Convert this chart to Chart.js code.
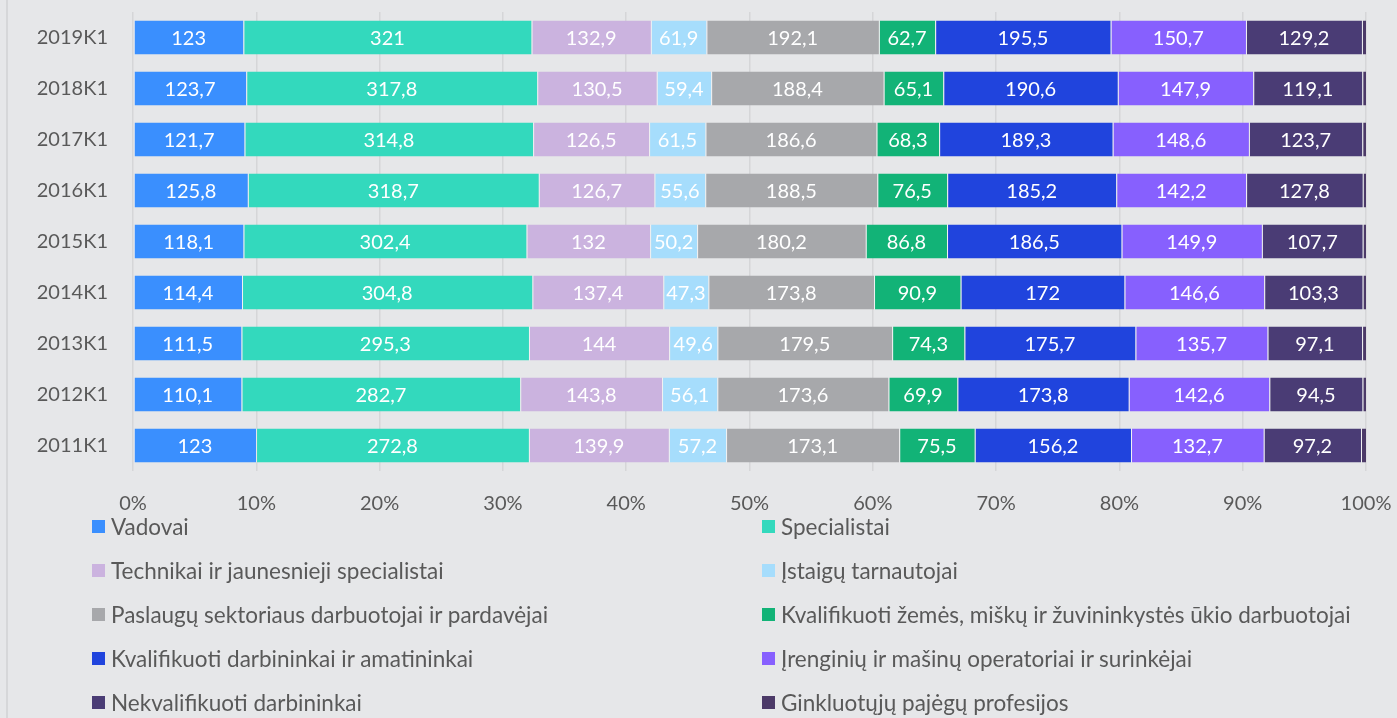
<!DOCTYPE html>
<html>
<head>
<meta charset="utf-8">
<script src="https://cdn.jsdelivr.net/npm/chart.js@4"></script>
<style>
  html, body { margin: 0; padding: 0; background: #e6e7e9; }
  body { width: 1397px; height: 718px; position: relative; overflow: hidden; font-family: Lato, "Noto Sans", sans-serif; }
  #frame { position: absolute; left: 6px; top: 0; width: 2px; height: 718px; background: #d6d7d9; }
  #chartBox { position: absolute; left: 0; top: 0; width: 1397px; height: 518px; }
  #legend { position: absolute; left: 0; top: 0; width: 1397px; height: 718px; pointer-events: none; }
  .item { position: absolute; display: flex; align-items: center; height: 26px; font-size: 22.5px; color: #595959; white-space: nowrap; }
  .box { width: 13px; height: 13px; margin-right: 6px; }
</style>
</head>
<body>
<div id="frame"></div>
<div id="chartBox"><canvas id="chart"></canvas></div>
<div id="legend"></div>
<script>
const categories = ["2019K1", "2018K1", "2017K1", "2016K1", "2015K1", "2014K1", "2013K1", "2012K1", "2011K1"];

const vadovai = [123, 123.7, 121.7, 125.8, 118.1, 114.4, 111.5, 110.1, 123];
const specialistai = [321, 317.8, 314.8, 318.7, 302.4, 304.8, 295.3, 282.7, 272.8];
const technikai = [132.9, 130.5, 126.5, 126.7, 132, 137.4, 144, 143.8, 139.9];
const istaiguTarnautojai = [61.9, 59.4, 61.5, 55.6, 50.2, 47.3, 49.6, 56.1, 57.2];
const paslaugu = [192.1, 188.4, 186.6, 188.5, 180.2, 173.8, 179.5, 173.6, 173.1];
const zemesUkio = [62.7, 65.1, 68.3, 76.5, 86.8, 90.9, 74.3, 69.9, 75.5];
const darbininkai = [195.5, 190.6, 189.3, 185.2, 186.5, 172, 175.7, 173.8, 156.2];
const operatoriai = [150.7, 147.9, 148.6, 142.2, 149.9, 146.6, 135.7, 142.6, 132.7];
const nekvalifikuoti = [129.2, 119.1, 123.7, 127.8, 107.7, 103.3, 97.1, 94.5, 97.2];
// thin sliver at the right end, no label in the picture - estimated
const ginkluotuju = [4.5, 4, 4, 3.5, 3.5, 3.5, 4, 3.5, 5];

const seriesNames = [
  "Vadovai",
  "Specialistai",
  "Technikai ir jaunesnieji specialistai",
  "Įstaigų tarnautojai",
  "Paslaugų sektoriaus darbuotojai ir pardavėjai",
  "Kvalifikuoti žemės, miškų ir žuvininkystės ūkio darbuotojai",
  "Kvalifikuoti darbininkai ir amatininkai",
  "Įrenginių ir mašinų operatoriai ir surinkėjai",
  "Nekvalifikuoti darbininkai",
  "Ginkluotųjų pajėgų profesijos",
];
const seriesValues = [vadovai, specialistai, technikai, istaiguTarnautojai, paslaugu, zemesUkio, darbininkai, operatoriai, nekvalifikuoti, ginkluotuju];
const seriesColors = ["#3a8ffe", "#33d9bd", "#cbb3df", "#a6ddfc", "#a7a8ab", "#12b377", "#2044dd", "#8760fe", "#4a3c75", "#4c3a68"];

// row totals for 100% stacking
const totals = categories.map((c, i) => seriesValues.reduce((s, arr) => s + arr[i], 0));

const datasets = seriesNames.map((name, k) => ({
  label: name,
  data: seriesValues[k].map((v, i) => (v / totals[i]) * 100),
  raw: seriesValues[k],
  backgroundColor: seriesColors[k],
  borderColor: "rgba(255,255,255,0.45)",
  borderWidth: { left: 1, right: 0, top: 0, bottom: 0 },
  borderSkipped: false,
  showLabel: k < 9,
}));

const font = "Lato, 'Noto Sans', sans-serif";

// value labels in the middle of each segment
const segmentLabels = {
  id: "segmentLabels",
  afterDatasetsDraw(chart) {
    const ctx = chart.ctx;
    ctx.save();
    ctx.font = "20px " + font;
    ctx.fillStyle = "#ffffff";
    ctx.textAlign = "center";
    ctx.textBaseline = "middle";
    chart.data.datasets.forEach((ds, k) => {
      if (!ds.showLabel) return;
      const meta = chart.getDatasetMeta(k);
      meta.data.forEach((bar, i) => {
        const cx = (bar.x + bar.base) / 2;
        const txt = String(ds.raw[i]).replace(".", ",");
        ctx.fillText(txt, cx, bar.y + 1);
      });
    });
    ctx.restore();
  },
};

const tickColor = "#595959";

const chart = new Chart(document.getElementById("chart").getContext("2d"), {
  type: "bar",
  data: { labels: categories, datasets: datasets },
  options: {
    indexAxis: "y",
    responsive: true,
    maintainAspectRatio: false,
    animation: false,
    layout: { padding: { top: 11, right: 31, left: 0, bottom: 0 } },
    datasets: { bar: { categoryPercentage: 0.665, barPercentage: 1 } },
    plugins: {
      legend: { display: false },
      tooltip: { enabled: false },
    },
    scales: {
      x: {
        stacked: true,
        min: 0,
        max: 100,
        ticks: {
          stepSize: 10,
          padding: 21,
          color: tickColor,
          font: { size: 20, family: font },
          callback: (v) => v + "%",
        },
        grid: { color: "#d5d6d8", lineWidth: 1.5, drawTicks: false },
        border: { display: false },
        afterFit: (scale) => {
          scale.height = 47;
          // let the "100%" label hang into the right margin
          scale.paddingLeft = 0;
          scale.paddingRight = 0;
        },
      },
      y: {
        stacked: true,
        ticks: {
          padding: 0,
          color: tickColor,
          font: { size: 20, family: font },
        },
        // gap between labels and bars comes from the (hidden) tick length
        grid: { display: false, drawTicks: true, tickLength: 25 },
        border: { display: false },
        afterFit: (scale) => { scale.width = 133; },
      },
    },
  },
  plugins: [segmentLabels],
});

// two-column legend under the chart
const legendEl = document.getElementById("legend");
const rowY = [526, 570, 614, 658, 702];
const colX = [92, 762];
seriesNames.forEach((name, k) => {
  const item = document.createElement("div");
  item.className = "item";
  item.style.left = colX[k % 2] + "px";
  item.style.top = rowY[Math.floor(k / 2)] - 13 + "px";
  const box = document.createElement("span");
  box.className = "box";
  box.style.background = seriesColors[k];
  const label = document.createElement("span");
  label.textContent = name;
  item.appendChild(box);
  item.appendChild(label);
  legendEl.appendChild(item);
});
</script>
</body>
</html>
